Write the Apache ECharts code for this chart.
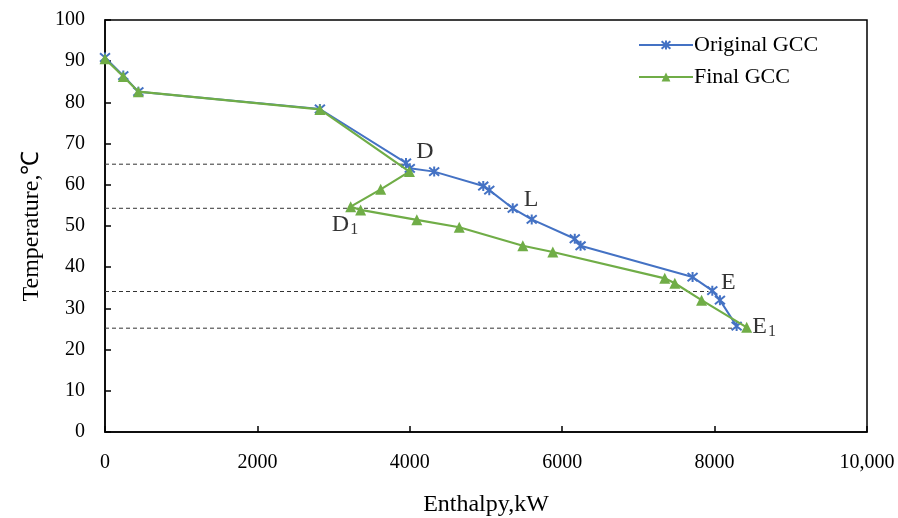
<!DOCTYPE html>
<html>
<head>
<meta charset="utf-8">
<script src="https://cdn.jsdelivr.net/npm/echarts@6/dist/echarts.min.js"></script>
<style>
  html, body { margin: 0; padding: 0; background: #fff; }
  #chart { width: 898px; height: 518px; }
</style>
</head>
<body>
<div id="chart"></div>
<script>
// Grand composite curves
const origX = [0, 240, 438, 2820, 3950, 4000, 4320, 4964, 5043, 5351, 5600, 6165, 6241, 7711, 7970, 8070, 8289];
const origY = [90.9, 86.5, 82.6, 78.4, 65.3, 64, 63.2, 59.7, 58.7, 54.3, 51.6, 46.9, 45.2, 37.6, 34.3, 32, 25.7];

const finalX = [0, 240, 438, 2820, 3995, 3618, 3224, 3355, 4092, 4649, 5483, 5877, 7346, 7478, 7829, 8421];
const finalY = [90.6, 86.3, 82.6, 78.3, 63.2, 58.9, 54.7, 53.9, 51.5, 49.7, 45.2, 43.7, 37.3, 36.1, 32, 25.4];

// dashed guide lines (temperature level, end enthalpy)
const guideY = [65, 54.3, 34.1, 25.2];
const guideEndX = [3950, 5300, 7920, 8270];

// point labels
const markNames = ['D', 'L', 'E', 'D{s|1}', 'E{s|1}'];
const markX = [4200, 5590, 8180, 3150, 8650];
const markY = [68, 56.4, 36.3, 50.3, 25.6];

const FONT = 'Liberation Serif';
const BLUE = '#4472C4';
const GREEN = '#70AD47';
const STAR = 'path://M0,0L10,10M10,0L0,10M5,-1L5,11';

const zip = (xs, ys) => xs.map((x, i) => [x, ys[i]]);

const guideSeries = guideY.map((y, i) => ({
  type: 'line',
  data: [[0, y], [guideEndX[i], y]],
  symbol: 'none',
  silent: true,
  z: 1,
  lineStyle: { color: '#333', width: 1, type: [4, 3] }
}));

const chart = echarts.init(document.getElementById('chart'));

chart.setOption({
  animation: false,
  textStyle: { fontFamily: FONT },
  grid: {
    left: 105, right: 31, top: 20, bottom: 86,
    outerBoundsMode: 'none',
    containLabel: false,
    show: true, borderColor: '#000', borderWidth: 1.5, backgroundColor: 'transparent'
  },
  legend: {
    data: ['Original GCC', 'Final GCC'],
    orient: 'vertical',
    left: 633, top: 29,
    itemWidth: 54, itemHeight: 11, itemGap: 10,
    textStyle: { fontFamily: FONT, fontSize: 22, color: '#000', padding: [0, 0, 0, -4] }
  },
  xAxis: {
    type: 'value',
    min: 0, max: 10000, interval: 2000,
    name: 'Enthalpy,kW',
    nameLocation: 'middle',
    nameGap: 61,
    nameTextStyle: { fontFamily: FONT, fontSize: 24, color: '#000' },
    axisLine: { lineStyle: { color: '#000', width: 1.5 } },
    axisTick: { inside: true, length: 6, lineStyle: { color: '#000', width: 1.5 } },
    axisLabel: {
      margin: 21, fontFamily: FONT, fontSize: 20, color: '#000',
      formatter: v => v >= 10000 ? '10,000' : String(v)
    },
    splitLine: { show: false }
  },
  yAxis: {
    type: 'value',
    min: 0, max: 100, interval: 10,
    name: 'Temperature,\u2103',
    nameLocation: 'middle',
    nameGap: 60,
    nameTextStyle: { fontFamily: FONT, fontSize: 24, color: '#000' },
    axisLine: { show: true, lineStyle: { color: '#000', width: 1.5 } },
    axisTick: { show: true, inside: true, length: 6, lineStyle: { color: '#000', width: 1.5 } },
    axisLabel: { margin: 20, fontFamily: FONT, fontSize: 20, color: '#000', padding: [3, 0, 0, 0] },
    splitLine: { show: false }
  },
  series: [
    ...guideSeries,
    {
      name: 'Original GCC',
      type: 'line',
      data: zip(origX, origY),
      symbol: STAR,
      symbolSize: 10,
      showAllSymbol: true,
      z: 3,
      lineStyle: { color: BLUE, width: 2 },
      itemStyle: { color: BLUE, borderColor: BLUE, borderWidth: 2 }
    },
    {
      name: 'Final GCC',
      type: 'line',
      data: zip(finalX, finalY),
      symbol: 'triangle',
      symbolSize: 11,
      showAllSymbol: true,
      z: 4,
      lineStyle: { color: GREEN, width: 2.2 },
      itemStyle: { color: GREEN }
    },
    {
      type: 'scatter',
      data: markX.map((x, i) => ({ value: [x, markY[i]], name: markNames[i] })),
      symbolSize: 0,
      silent: true,
      z: 5,
      label: {
        show: true,
        position: 'inside',
        formatter: p => p.name,
        fontFamily: FONT,
        fontSize: 24,
        color: '#000',
        rich: {
          s: { fontFamily: FONT, fontSize: 16, color: '#000', verticalAlign: 'bottom', padding: [10, 0, 0, 1] }
        }
      }
    }
  ]
});
</script>
</body>
</html>
